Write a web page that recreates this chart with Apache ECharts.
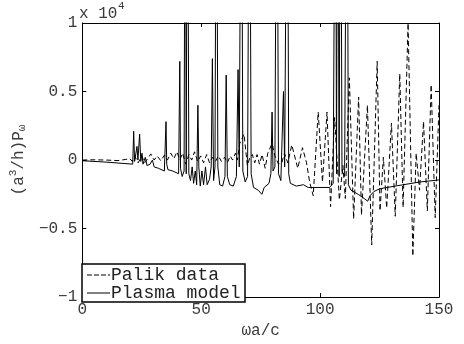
<!DOCTYPE html>
<html>
<head>
<meta charset="utf-8">
<script src="https://cdn.jsdelivr.net/npm/echarts@6/dist/echarts.min.js"></script>
<style>html,body{margin:0;padding:0;background:#fff}#c{width:464px;height:344px}</style>
</head>
<body>
<div id="c"></div>
<script>
const xTicks = [0, 50, 100, 150];
const yTicks = [-1, -0.5, 0, 0.5, 1];
const seriesNames = ['Palik data', 'Plasma model'];

const palikX = [0, 5, 10, 15, 18, 20, 21, 22, 23.5, 25, 26.2, 27.5, 28.8, 30.2, 31.5, 33, 34.5, 35.8, 37.2, 38.5, 39.8, 41, 42.2, 43.5, 44.8, 46, 47.2, 48.5, 49.8, 51, 52.3, 53.5, 54.8, 56, 57.2, 58.5, 59.8, 61, 62.2, 63.2, 64.4, 65.2, 66.2, 68.0, 69.4, 70.5, 71.5, 72.5, 73.5, 74.5, 75.6, 76.9, 78.0, 79.8, 81.0, 82.5, 83.9, 85, 86.4, 88.1, 90.6, 92.6, 94.3, 95.6, 97.1, 99.2, 101.0, 102.9, 104.4, 106.1, 108.1, 109.6, 110.6, 112.3, 114.1, 116.2, 117.4, 119.9, 121.7, 124.0, 125.2, 126.6, 128.0, 130.0, 131.6, 133.5, 134.9, 137.0, 139.0, 140.4, 141.8, 143.5, 145.1, 146.7, 148.4, 150];
const palikY = [0, 0.002, 0, -0.004, 0.004, 0.01, -0.01, 0.03, -0.02, 0.03, -0.02, 0.01, 0.045, 0.0, 0.03, -0.005, 0.035, 0.0, 0.05, 0.01, 0.06, 0.0, 0.05, -0.03, 0.04, 0.0, 0.06, -0.01, 0.03, -0.02, 0.04, -0.02, 0.02, -0.01, 0.03, -0.01, 0.02, -0.02, 0.03, 0.0, 0.05, 0.0, 0.12, 0.19, -0.04, 0.02, 0.04, -0.02, 0.04, -0.03, 0.04, -0.06, 0.05, 0.12, 0.03, -0.03, -0.02, 0.05, -0.02, 0.11, -0.06, 0.09, -0.02, -0.16, -0.26, 0.35, -0.16, 0.35, -0.34, 0.31, -0.29, -0.04, -0.28, 0.60, -0.43, 0.46, -0.40, 0.40, -0.62, 0.72, -0.37, 0.02, -0.35, 0.27, -0.41, 0.63, -0.345, 1.0, -0.70, 0.05, -0.22, 0.28, -0.37, 0.55, -0.42, 0.40];

const plasmaX = [0, 10, 21.2, 21.6, 22.0, 23.0, 23.4, 24.1, 24.6, 25.1, 25.5, 26.5, 27.2, 28.5, 29.5, 30.2, 32, 34.5, 35.2, 35.5, 36, 38, 40.5, 41.0, 41.3, 42, 42.8, 43.3, 43.7, 44.2, 44.8, 45.5, 46.2, 46.8, 47.5, 48.1, 48.6, 49.0, 49.6, 50.3, 51, 51.8, 52.5, 53.5, 54.2, 54.7, 55.2, 55.8, 56.4, 57, 57.8, 59, 60, 60.5, 61, 62, 63.5, 64.8, 65.5, 66, 66.9, 67.5, 68.5, 69.5, 70.3, 71, 72, 74, 75.5, 76.5, 78.5, 79.3, 79.8, 80.2, 81, 81.8, 82.5, 83.5, 84.6, 85.1, 86.2, 86.8, 87.5, 90, 93, 95, 100, 104, 105.5, 106.5, 106.9, 107.4, 108, 108.6, 109.2, 110.3, 111.3, 111.9, 113, 116, 118.5, 120, 121, 122.6, 125, 128.2, 135, 142, 150];
const plasmaY = [-0.005, -0.015, -0.03, 0.21, -0.01, 0.10, 0.0, 0.19, -0.01, 0.05, -0.03, 0.02, -0.04, -0.03, 0.0, -0.05, -0.06, -0.08, 0.28, -0.03, -0.07, -0.08, -0.10, 0.72, -0.06, -0.12, -0.08, 3, -0.1, 3, -0.1, -0.15, -0.05, -0.17, -0.08, -0.18, 0.40, -0.05, -0.19, -0.08, -0.18, -0.05, -0.18, -0.14, -0.05, 0.74, -0.15, -0.05, 3, -0.05, -0.18, -0.19, -0.12, 0.62, -0.12, -0.18, -0.19, -0.12, 0.66, -0.05, 3, -0.08, -0.16, -0.12, 3, -0.1, -0.2, -0.22, -0.25, -0.2, -0.17, -0.1, 0.35, -0.08, -0.05, 3, -0.1, -0.15, 0.50, -0.05, 3, -0.1, -0.17, -0.19, -0.18, -0.2, -0.2, -0.2, -0.17, 3, -0.1, 3, -0.12, 3, -0.08, -0.12, 3, -0.18, -0.22, -0.25, -0.28, -0.3, -0.26, -0.23, -0.21, -0.2, -0.18, -0.16, -0.145];

const pair = (xs, ys) => xs.map((x, i) => [x, ys[i]]);
const FONT = '"Liberation Mono", "DejaVu Sans Mono", monospace';
const TXT = '#3a3a3a';
const fmtNum = v => String(v).replace('-', '\u2212');

const chart = echarts.init(document.getElementById('c'), null, {renderer: 'canvas'});
const axisBase = {
  type: 'value', min: 0, max: 150, interval: 50,
  axisLine: {show: true, onZero: false, lineStyle: {color: '#000', width: 1}},
  axisTick: {show: true, inside: true, length: 4, lineStyle: {color: '#000'}},
  splitLine: {show: false}
};
const yBase = {
  type: 'value', min: -1, max: 1, interval: 0.5,
  axisLine: {show: true, onZero: false, lineStyle: {color: '#000', width: 1}},
  axisTick: {show: true, inside: true, length: 4, lineStyle: {color: '#000'}},
  splitLine: {show: false}
};
chart.setOption({
  animation: false,
  backgroundColor: '#fff',
  grid: {left: 78, right: 25, top: 23, bottom: 39, containLabel: false},
  xAxis: [
    Object.assign({}, axisBase, {
      position: 'bottom',
      axisLabel: {show: true, margin: 5, fontFamily: FONT, fontSize: 16, color: TXT,
        formatter: v => xTicks.includes(v) ? fmtNum(v) : ''},
      name: 'ωa/c', nameLocation: 'middle', nameGap: 25,
      nameTextStyle: {fontFamily: FONT, fontSize: 16, color: TXT}
    }),
    Object.assign({}, axisBase, {position: 'top', axisLabel: {show: false}})
  ],
  yAxis: [
    Object.assign({}, yBase, {
      position: 'left',
      axisLabel: {show: true, margin: 5, fontFamily: FONT, fontSize: 16, color: TXT,
        formatter: v => yTicks.includes(v) ? fmtNum(v) : ''},
      name: '(a{sup|3}/h)P{sub|ω}', nameLocation: 'middle', nameGap: 36, nameRotate: 90,
      nameTextStyle: {fontFamily: FONT, fontSize: 16, color: TXT,
        rich: {
          sup: {fontFamily: FONT, fontSize: 11, color: TXT, padding: [0, 0, 10, 0]},
          sub: {fontFamily: FONT, fontSize: 11, color: TXT, padding: [8, 0, 0, 0]}
        }}
    }),
    Object.assign({}, yBase, {position: 'right', axisLabel: {show: false}})
  ],
  graphic: [
    {type: 'text', left: 79, top: 6, style: {text: 'x 10', font: '16px ' + FONT, fill: TXT}},
    {type: 'text', left: 118, top: 1, style: {text: '4', font: '11px ' + FONT, fill: TXT}},
    {type: 'rect', shape: {x: 82, y: 264, width: 163, height: 38}, z: 100,
      style: {fill: '#fff', stroke: '#000', lineWidth: 1.5}},
    {type: 'line', shape: {x1: 87, y1: 275, x2: 110, y2: 275}, z: 101,
      style: {stroke: '#000', lineWidth: 1, lineDash: [5, 2]}},
    {type: 'line', shape: {x1: 87, y1: 293, x2: 110, y2: 293}, z: 101,
      style: {stroke: '#000', lineWidth: 1}},
    {type: 'text', x: 111, y: 275, z: 101,
      style: {text: seriesNames[0], font: '18px ' + FONT, fill: '#222', textVerticalAlign: 'middle', verticalAlign: 'middle'}},
    {type: 'text', x: 111, y: 293, z: 101,
      style: {text: seriesNames[1], font: '18px ' + FONT, fill: '#222', textVerticalAlign: 'middle', verticalAlign: 'middle'}}
  ],
  series: [
    {
      name: seriesNames[0], type: 'line', data: pair(palikX, palikY),
      symbol: 'none', showSymbol: false, clip: true,
      lineStyle: {color: '#000', width: 1, type: [5, 3]}
    },
    {
      name: seriesNames[1], type: 'line', data: pair(plasmaX, plasmaY),
      symbol: 'none', showSymbol: false, clip: true,
      lineStyle: {color: '#000', width: 1}
    }
  ]
});
</script>
</body>
</html>
